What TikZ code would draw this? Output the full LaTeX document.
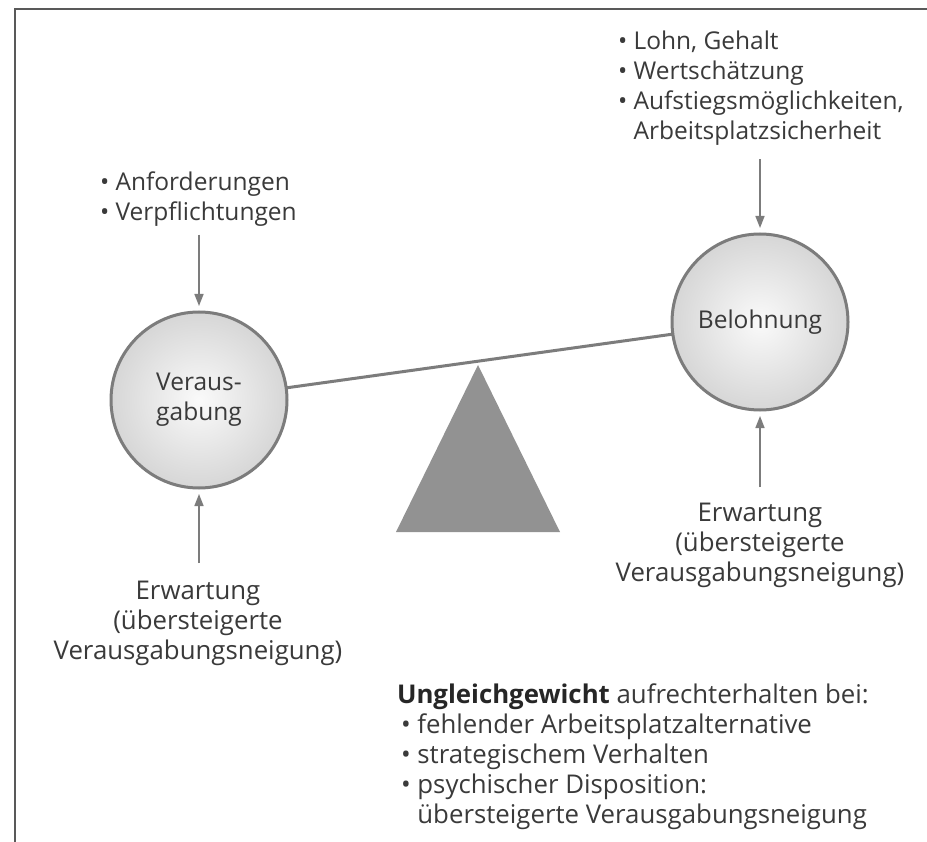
\documentclass[tikz,border=0pt]{standalone}
\usepackage{fontspec}
\setmainfont{Open Sans}
\usetikzlibrary{arrows.meta,calc}
\definecolor{txt}{HTML}{3A3A3A}
\definecolor{edge}{HTML}{7C7C7C}
\definecolor{tri}{HTML}{929292}
\begin{document}
\begin{tikzpicture}[x=1pt,y=-1pt,
  every node/.style={text=txt, font=\fontsize{24.5}{30}\selectfont, inner sep=0pt, outer sep=0pt},
  big/.style={font=\fontsize{25.8}{30}\selectfont},
  circ/.style={circle, draw=edge, line width=3pt, minimum size=176pt, align=center,
    shading=radial, inner color=white!96!gray, outer color=gray!32},
  lst/.style={align=left, anchor=north west},
  ctr/.style={align=center, anchor=north},
  arr/.style={draw=edge, line width=1.6pt, -{Triangle[width=9pt,length=12pt]}},
  beam/.style={draw=edge, line width=3pt}
]
\useasboundingbox (0,0) rectangle (927,842);
\fill[white] (0,0) rectangle (927,842);
\draw[line width=2.5pt, draw=black!65] (927,9) -- (15,9) -- (15,842);

% circles
\node[circ] (L) at (199,400) {Veraus-\\gabung};
\node[circ] (R) at (760,322) {Belohnung};

% beam and fulcrum
\draw[beam] (L) -- (R);
\fill[tri] (478,365) -- (560,532) -- (396,532) -- cycle;

% texts
\node[lst] (tl) at (100,172) {• Anforderungen\\• Verpflichtungen};
\node[lst] (tr) at (618,31) {• Lohn, Gehalt\\• Wertschätzung\\• Aufstiegsmöglichkeiten,\\\hphantom{• }Arbeitsplatzsicherheit};
\node[ctr, big] (bl) at (198,581) {Erwartung\\(übersteigerte\\Verausgabungsneigung)};
\node[ctr, big] (br) at (760,503) {Erwartung\\(übersteigerte\\Verausgabungsneigung)};
\node[lst, big] (ug) at (397,684) {\textbf{\color{black!85}Ungleichgewicht} aufrechterhalten bei:\\
\hspace{4pt}• fehlender Arbeitsplatzalternative\\
\hspace{4pt}• strategischem Verhalten\\
\hspace{4pt}• psychischer Disposition:\\
\hspace{4pt}\hphantom{• }übersteigerte Verausgabungsneigung};

% arrows
\draw[arr] ([yshift=-8pt]tl.south -| L.north) -- ([yshift=6pt]L.north);
\draw[arr] ([yshift=-14pt]tr.south -| R.north) -- ([yshift=6pt]R.north);
\draw[arr] ([yshift=18pt]bl.north -| L.south) -- ([yshift=-6pt]L.south);
\draw[arr] ([yshift=16pt]br.north -| R.south) -- ([yshift=-6pt]R.south);
\end{tikzpicture}
\end{document}
